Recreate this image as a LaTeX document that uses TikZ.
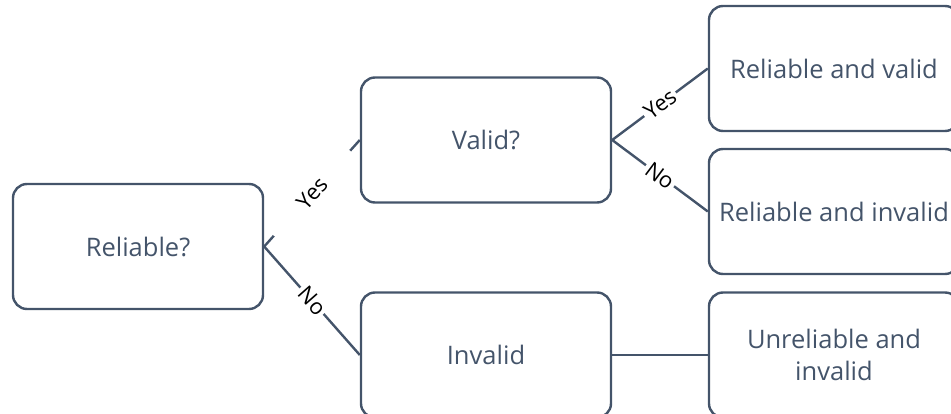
\documentclass[tikz,border=0pt]{standalone}
\usepackage{fontspec}
\setmainfont{Open Sans}
\usepackage{xcolor}
\usepackage{tikz}
\definecolor{slate}{HTML}{44546A}
\definecolor{ink}{HTML}{000000}
\tikzset{
  box/.style={draw=slate, line width=2.4pt, rounded corners=14pt, minimum width=250pt,
    minimum height=125pt, text=slate, align=center, font=\fontsize{25.5}{32}\selectfont},
  link/.style={draw=slate, line width=2.4pt},
  lbl/.style={text=ink, fill=white, sloped, inner sep=2.5pt, font=\fontsize{22}{24}\selectfont}
}

\begin{document}
\begin{tikzpicture}[x=1pt,y=-1pt]
  \useasboundingbox (0,0) rectangle (951,414);
  \clip (0,0) rectangle (951,414);
  % decision boxes
  \node[box] (rel) at (138,246.5) {Reliable?};
  \node[box] (val) at (486,140) {Valid?};
  \node[box] (inv) at (486,355) {Invalid};
  % outcomes
  \node[box] (rv) at (834,68.5) {Reliable and valid};
  \node[box] (ri) at (834,211.5) {Reliable and invalid};
  \node[box] (ui) at (834,355) {Unreliable and\\invalid};
  % branches
  \draw[link] (rel.east) -- node[lbl, inner xsep=40pt] {Yes} (val.west);
  \draw[link] (rel.east) -- node[lbl] {No} (inv.west);
  \draw[link] (val.east) -- node[lbl] {Yes} (rv.west);
  \draw[link] (val.east) -- node[lbl] {No} (ri.west);
  \draw[link] (inv.east) -- (ui.west);
\end{tikzpicture}
\end{document}
